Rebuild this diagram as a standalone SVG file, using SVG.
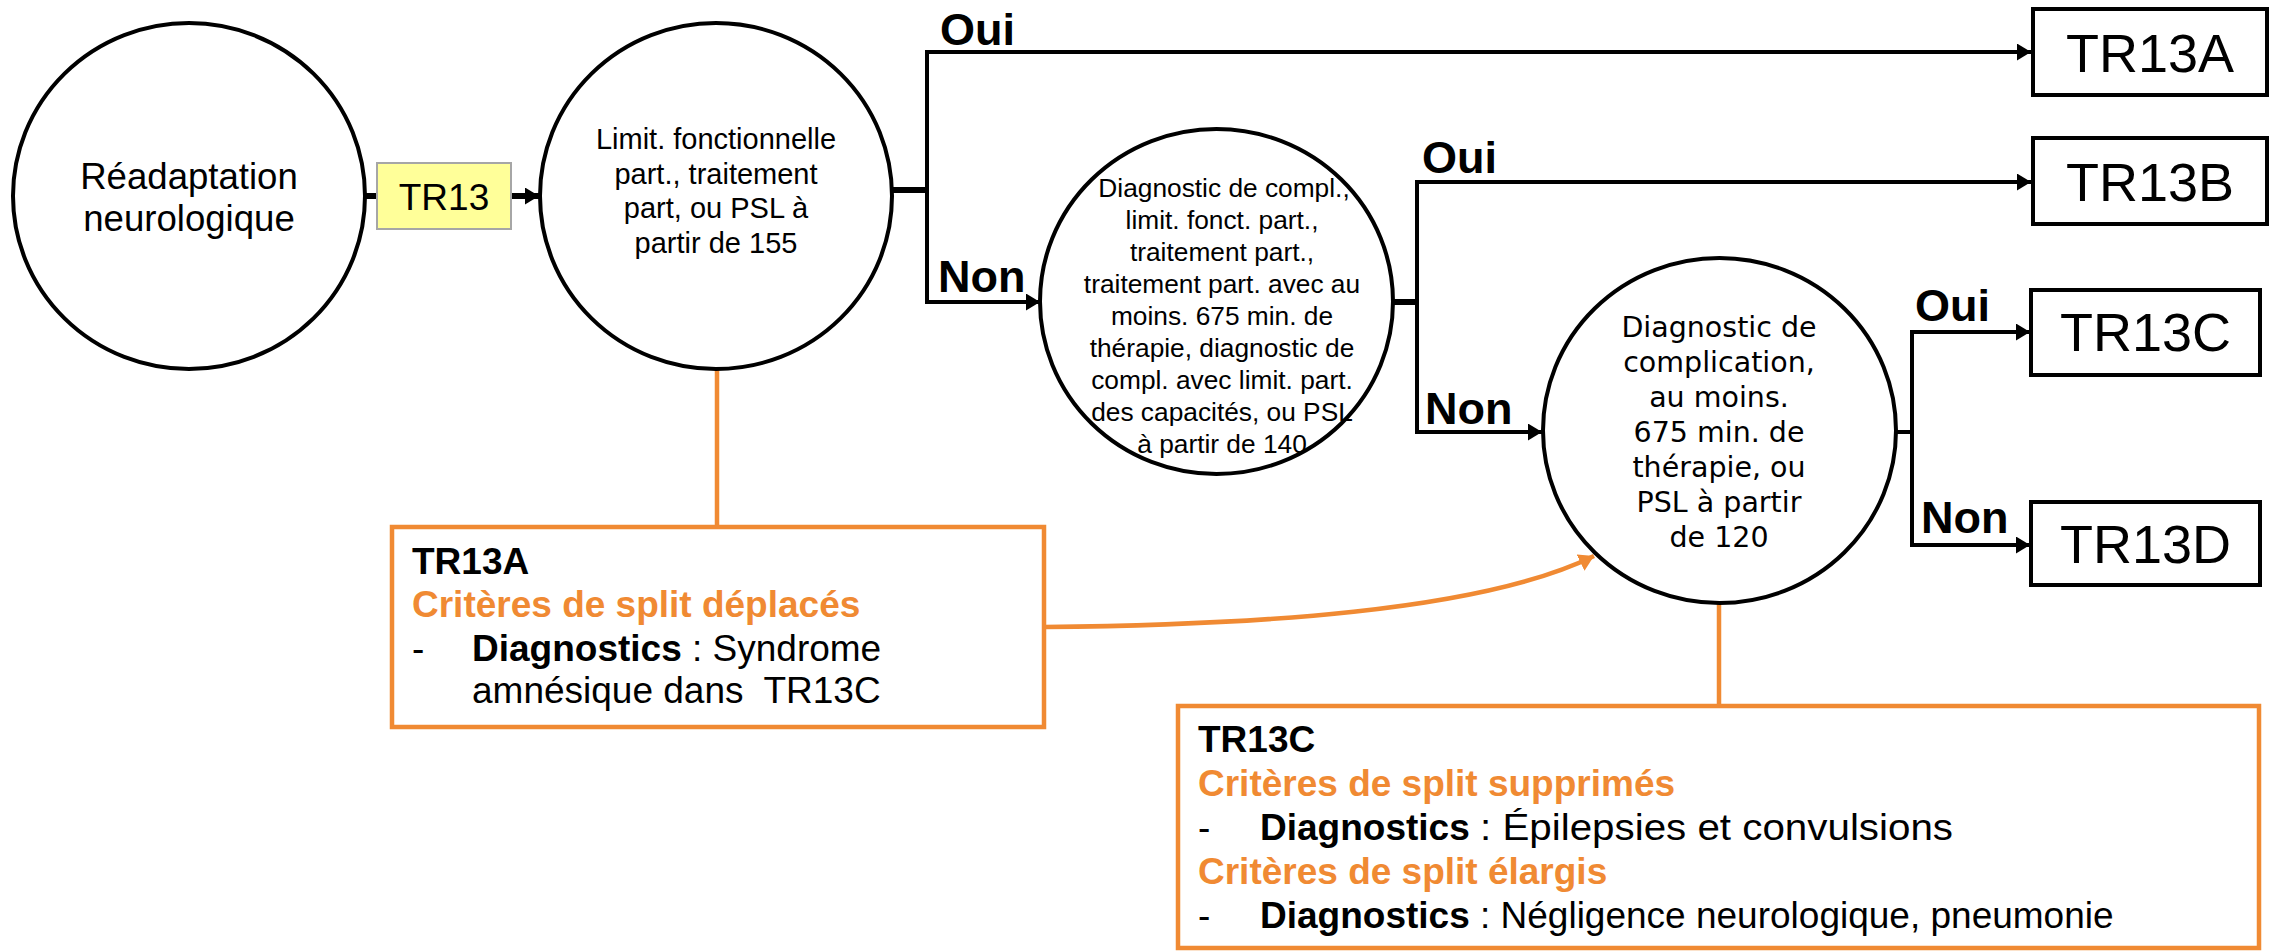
<svg xmlns="http://www.w3.org/2000/svg" width="2280" height="951" viewBox="0 0 2280 951">
<style>
.ln{stroke:#000;stroke-width:4;fill:none;stroke-linejoin:miter}
.stub{stroke:#000;stroke-width:6;fill:none}
.or{stroke:#F08A33;stroke-width:4.5;fill:none}
.node{fill:#fff;stroke:#000;stroke-width:4}
.lbl{font-family:"Liberation Sans",Arial,sans-serif;font-weight:bold;font-size:45px;fill:#000}
.out{font-family:"Liberation Sans",Arial,sans-serif;font-size:54px;fill:#000;text-anchor:middle}
.c1{font-family:"Liberation Sans",Arial,sans-serif;font-size:36.6px;fill:#000;text-anchor:middle}
.c2{font-family:"Liberation Sans",Arial,sans-serif;font-size:29px;fill:#000;text-anchor:middle}
.c3{font-family:"Liberation Sans",Arial,sans-serif;font-size:26.3px;fill:#000;text-anchor:middle}
.c4{font-family:"DejaVu Sans",Verdana,sans-serif;font-size:28.5px;fill:#000;text-anchor:middle}
.nt{font-family:"Liberation Sans",Arial,sans-serif;font-size:37px;fill:#000}
.b{font-weight:bold}
.o{fill:#F08A33;font-weight:bold}
.note{fill:#fff;stroke:#F08A33;stroke-width:4.5}
</style>
<defs>
<marker id="ah" markerUnits="userSpaceOnUse" markerWidth="16" markerHeight="18" refX="14" refY="8.5" orient="auto">
<path d="M0,0 L14,8.5 L0,17 z" fill="#000"/>
</marker>
<marker id="aho" markerUnits="userSpaceOnUse" markerWidth="18" markerHeight="20" refX="15" refY="9" orient="auto">
<path d="M0,0 L15,9 L0,18 z" fill="#F08A33"/>
</marker>
</defs>
<rect width="2280" height="951" fill="#fff"/>

<g id="connectors">
<line class="stub" x1="364" y1="196" x2="378" y2="196"/>
<line class="stub" x1="511" y1="196" x2="539" y2="196" marker-end="url(#ah)"/>
<line class="stub" x1="892" y1="190" x2="929" y2="190"/>
<path class="ln" d="M927,302 V52 H2031" marker-end="url(#ah)"/>
<path class="ln" d="M927,300 V302 H1040" marker-end="url(#ah)"/>
<line class="stub" x1="1392" y1="302" x2="1419" y2="302"/>
<path class="ln" d="M1417,302 V182 H2031" marker-end="url(#ah)"/>
<path class="ln" d="M1417,302 V432 H1542" marker-end="url(#ah)"/>
<line class="ln" x1="1895" y1="432" x2="1914" y2="432"/>
<path class="ln" d="M1912,432 V332 H2030" marker-end="url(#ah)"/>
<path class="ln" d="M1912,432 V545 H2030" marker-end="url(#ah)"/>
<line class="or" x1="717" y1="369" x2="717" y2="527"/>
<line class="or" x1="1719" y1="603" x2="1719" y2="706"/>
<path class="or" d="M1045,627 C1250,625 1480,612 1594,556" marker-end="url(#aho)"/>
<text class="lbl" x="940" y="45">Oui</text>
<text class="lbl" x="938" y="292">Non</text>
<text class="lbl" x="1422" y="173">Oui</text>
<text class="lbl" x="1425" y="424">Non</text>
<text class="lbl" x="1915" y="321">Oui</text>
<text class="lbl" x="1921" y="533">Non</text>
</g>

<g id="n_readaptation">
<ellipse class="node" cx="189" cy="196" rx="176" ry="173"/>
<text class="c1" x="189" y="189">Réadaptation</text>
<text class="c1" x="189" y="231">neurologique</text>
</g>

<g id="n_tr13">
<rect x="377" y="163" width="134" height="66" fill="#FFFF99" stroke="#A6A6A6" stroke-width="2"/>
<text x="444" y="210" font-family="Liberation Sans, Arial, sans-serif" font-size="37" text-anchor="middle">TR13</text>
</g>

<g id="n_q1">
<ellipse class="node" cx="716" cy="196" rx="176" ry="173"/>
<text class="c2" x="716" y="149">Limit. fonctionnelle</text>
<text class="c2" x="716" y="184">part., traitement</text>
<text class="c2" x="716" y="218">part, ou PSL à</text>
<text class="c2" x="716" y="253">partir de 155</text>
</g>

<g id="n_q2">
<ellipse class="node" cx="1216.5" cy="301.5" rx="176.5" ry="172.5"/>
<text class="c3" x="1224" y="197">Diagnostic de compl.,</text>
<text class="c3" x="1222" y="229">limit. fonct. part.,</text>
<text class="c3" x="1222" y="261">traitement part.,</text>
<text class="c3" x="1222" y="293">traitement part. avec au</text>
<text class="c3" x="1222" y="325">moins. 675 min. de</text>
<text class="c3" x="1222" y="357">thérapie, diagnostic de</text>
<text class="c3" x="1222" y="389">compl. avec limit. part.</text>
<text class="c3" x="1222" y="421">des capacités, ou PSL</text>
<text class="c3" x="1222" y="453">à partir de 140</text>
</g>

<g id="n_q3">
<ellipse class="node" cx="1719.5" cy="430.5" rx="176.5" ry="172.5"/>
<text class="c4" x="1719" y="337">Diagnostic de</text>
<text class="c4" x="1719" y="372">complication,</text>
<text class="c4" x="1719" y="407">au moins.</text>
<text class="c4" x="1719" y="442">675 min. de</text>
<text class="c4" x="1719" y="477">thérapie, ou</text>
<text class="c4" x="1719" y="512">PSL à partir</text>
<text class="c4" x="1719" y="547">de 120</text>
</g>

<g id="n_TR13A">
<rect class="node" x="2033" y="9" width="234" height="86"/>
<text class="out" x="2150" y="72">TR13A</text>
</g>
<g id="n_TR13B">
<rect class="node" x="2033" y="138" width="234" height="86"/>
<text class="out" x="2150" y="201">TR13B</text>
</g>
<g id="n_TR13C">
<rect class="node" x="2031" y="290" width="229" height="85"/>
<text class="out" x="2145.5" y="351">TR13C</text>
</g>
<g id="n_TR13D">
<rect class="node" x="2031" y="502" width="229" height="83"/>
<text class="out" x="2145.5" y="563">TR13D</text>
</g>

<g id="note_TR13A">
<rect class="note" x="392" y="527" width="652" height="200"/>
<text class="nt b" x="412" y="574">TR13A</text>
<text class="nt o" x="412" y="617">Critères de split déplacés</text>
<text class="nt" x="412" y="661">-</text>
<text class="nt" x="472" y="661"><tspan class="b">Diagnostics</tspan> : Syndrome</text>
<text class="nt" x="472" y="703" xml:space="preserve">amnésique dans  TR13C</text>
</g>

<g id="note_TR13C">
<rect class="note" x="1178" y="706" width="1081" height="242"/>
<text class="nt b" x="1198" y="752">TR13C</text>
<text class="nt o" x="1198" y="796">Critères de split supprimés</text>
<text class="nt" x="1198" y="840">-</text>
<text class="nt b" x="1260" y="840">Diagnostics</text>
<text class="nt" x="1480" y="840" textLength="473" lengthAdjust="spacingAndGlyphs">: Épilepsies et convulsions</text>
<text class="nt o" x="1198" y="884">Critères de split élargis</text>
<text class="nt" x="1198" y="928">-</text>
<text class="nt" x="1260" y="928"><tspan class="b">Diagnostics</tspan> : Négligence neurologique, pneumonie</text>
</g>
</svg>
